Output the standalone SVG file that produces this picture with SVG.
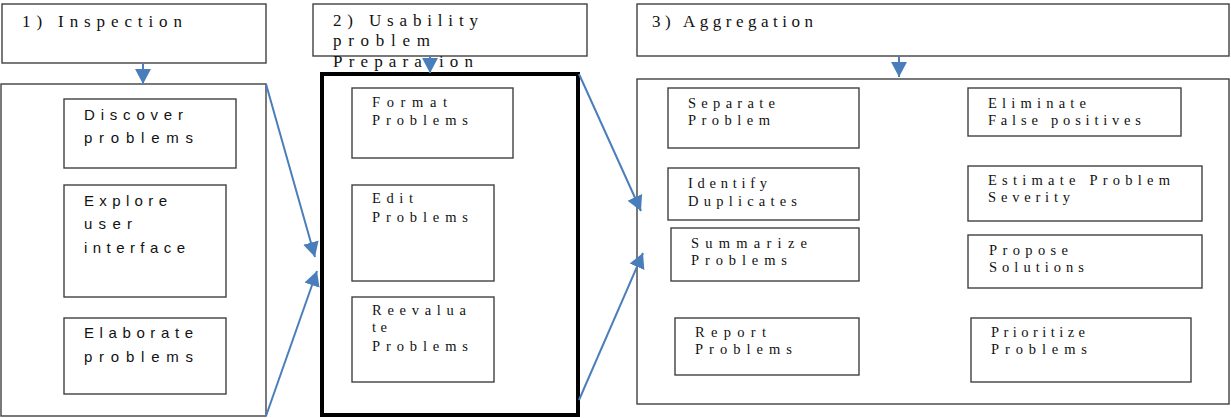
<svg xmlns="http://www.w3.org/2000/svg" width="1231" height="418" viewBox="0 0 1231 418">
<style>
.b{fill:#fff;stroke:#404040;stroke-width:1.4}
.thick{fill:#fff;stroke:#000;stroke-width:4}
.h{font-family:"Liberation Serif",serif;font-size:17px;fill:#111}
.s{font-family:"Liberation Serif",serif;font-size:14.5px;fill:#111}
.a{font-family:"Liberation Sans",sans-serif;font-size:15px;fill:#111}
.c{fill:none;stroke:#4a7ebb;stroke-width:2}
</style>
<defs>
<marker id="ah" markerUnits="userSpaceOnUse" markerWidth="16" markerHeight="18" viewBox="0 0 16 18" refX="15" refY="9" orient="auto">
<path d="M0,1 L15,9 L0,17 Z" fill="#4a7ebb"/>
</marker>
</defs>
<rect width="1231" height="418" fill="#fff"/>

<g id="header1"><rect class="b" x="2" y="4" width="264" height="59"/>
<text class="h" x="22" y="27" textLength="160" lengthAdjust="spacing">1) Inspection</text></g>
<g id="inspection"><rect class="b" x="1" y="84" width="265" height="332"/></g>
<g id="discover"><rect class="b" x="64" y="99" width="172" height="69"/>
<text class="a" x="84" y="120" textLength="99" lengthAdjust="spacing">Discover</text>
<text class="a" x="84" y="143" textLength="109" lengthAdjust="spacing">problems</text></g>
<g id="explore"><rect class="b" x="64" y="185" width="162" height="112"/>
<text class="a" x="84" y="206" textLength="83" lengthAdjust="spacing">Explore</text>
<text class="a" x="84" y="229" textLength="48" lengthAdjust="spacing">user</text>
<text class="a" x="84" y="253" textLength="101" lengthAdjust="spacing">interface</text></g>
<g id="elaborate"><rect class="b" x="64" y="318" width="162" height="76"/>
<text class="a" x="84" y="338" textLength="109" lengthAdjust="spacing">Elaborate</text>
<text class="a" x="84" y="362" textLength="109" lengthAdjust="spacing">problems</text></g>

<g id="header2"><rect class="b" x="313" y="4" width="274" height="52"/>
<text class="h" x="333" y="26" textLength="145" lengthAdjust="spacing">2) Usability</text>
<text class="h" x="333" y="46" textLength="97" lengthAdjust="spacing">problem</text>
<text class="h" x="333" y="67" textLength="140" lengthAdjust="spacing">Preparation</text></g>
<g id="preparation"><rect class="thick" x="322" y="74" width="256" height="341"/></g>
<g id="format"><rect class="b" x="352" y="88" width="161" height="70"/>
<text class="s" x="372" y="107" textLength="75" lengthAdjust="spacing">Format</text>
<text class="s" x="372" y="125" textLength="96" lengthAdjust="spacing">Problems</text></g>
<g id="edit"><rect class="b" x="352" y="185" width="142" height="96"/>
<text class="s" x="372" y="203" textLength="41" lengthAdjust="spacing">Edit</text>
<text class="s" x="372" y="222" textLength="96" lengthAdjust="spacing">Problems</text></g>
<g id="reevaluate"><rect class="b" x="352" y="297" width="142" height="85"/>
<text class="s" x="372" y="315" textLength="94" lengthAdjust="spacing">Reevalua</text>
<text class="s" x="372" y="332" textLength="15" lengthAdjust="spacing">te</text>
<text class="s" x="372" y="351" textLength="96" lengthAdjust="spacing">Problems</text></g>

<g id="header3"><rect class="b" x="637" y="4" width="592" height="52"/>
<text class="h" x="652" y="27" textLength="161" lengthAdjust="spacing">3) Aggregation</text></g>
<g id="aggregation"><rect class="b" x="637" y="79" width="592" height="325"/></g>
<g id="separate"><rect class="b" x="668" y="88" width="191" height="60"/>
<text class="s" x="688" y="108" textLength="87" lengthAdjust="spacing">Separate</text>
<text class="s" x="688" y="125" textLength="82" lengthAdjust="spacing">Problem</text></g>
<g id="identify"><rect class="b" x="668" y="168" width="191" height="52"/>
<text class="s" x="688" y="188" textLength="79" lengthAdjust="spacing">Identify</text>
<text class="s" x="688" y="206" textLength="109" lengthAdjust="spacing">Duplicates</text></g>
<g id="summarize"><rect class="b" x="671" y="228" width="188" height="53"/>
<text class="s" x="691" y="248" textLength="116" lengthAdjust="spacing">Summarize</text>
<text class="s" x="691" y="265" textLength="96" lengthAdjust="spacing">Problems</text></g>
<g id="report"><rect class="b" x="675" y="318" width="184" height="57"/>
<text class="s" x="695" y="337" textLength="71" lengthAdjust="spacing">Report</text>
<text class="s" x="695" y="354" textLength="97" lengthAdjust="spacing">Problems</text></g>
<g id="eliminate"><rect class="b" x="968" y="88" width="213" height="48"/>
<text class="s" x="988" y="108" textLength="98" lengthAdjust="spacing">Eliminate</text>
<text class="s" x="988" y="125" textLength="153" lengthAdjust="spacing">False positives</text></g>
<g id="estimate"><rect class="b" x="968" y="166" width="234" height="55"/>
<text class="s" x="988" y="185" textLength="182" lengthAdjust="spacing">Estimate Problem</text>
<text class="s" x="988" y="202" textLength="82" lengthAdjust="spacing">Severity</text></g>
<g id="propose"><rect class="b" x="968" y="235" width="234" height="53"/>
<text class="s" x="989" y="255" textLength="79" lengthAdjust="spacing">Propose</text>
<text class="s" x="989" y="272" textLength="95" lengthAdjust="spacing">Solutions</text></g>
<g id="prioritize"><rect class="b" x="971" y="318" width="220" height="64"/>
<text class="s" x="991" y="337" textLength="94" lengthAdjust="spacing">Prioritize</text>
<text class="s" x="991" y="354" textLength="96" lengthAdjust="spacing">Problems</text></g>

<g id="connectors">
<path class="c" d="M143,63 L143,84" marker-end="url(#ah)"/>
<path class="c" d="M430,56 L430,73" marker-end="url(#ah)"/>
<path class="c" d="M899,56 L899,77" marker-end="url(#ah)"/>
<path class="c" d="M266,84 L315,257" marker-end="url(#ah)"/>
<path class="c" d="M266,416 L317,271" marker-end="url(#ah)"/>
<path class="c" d="M579,74 L641,211" marker-end="url(#ah)"/>
<path class="c" d="M579,400 L643,253" marker-end="url(#ah)"/>
</g>
</svg>
